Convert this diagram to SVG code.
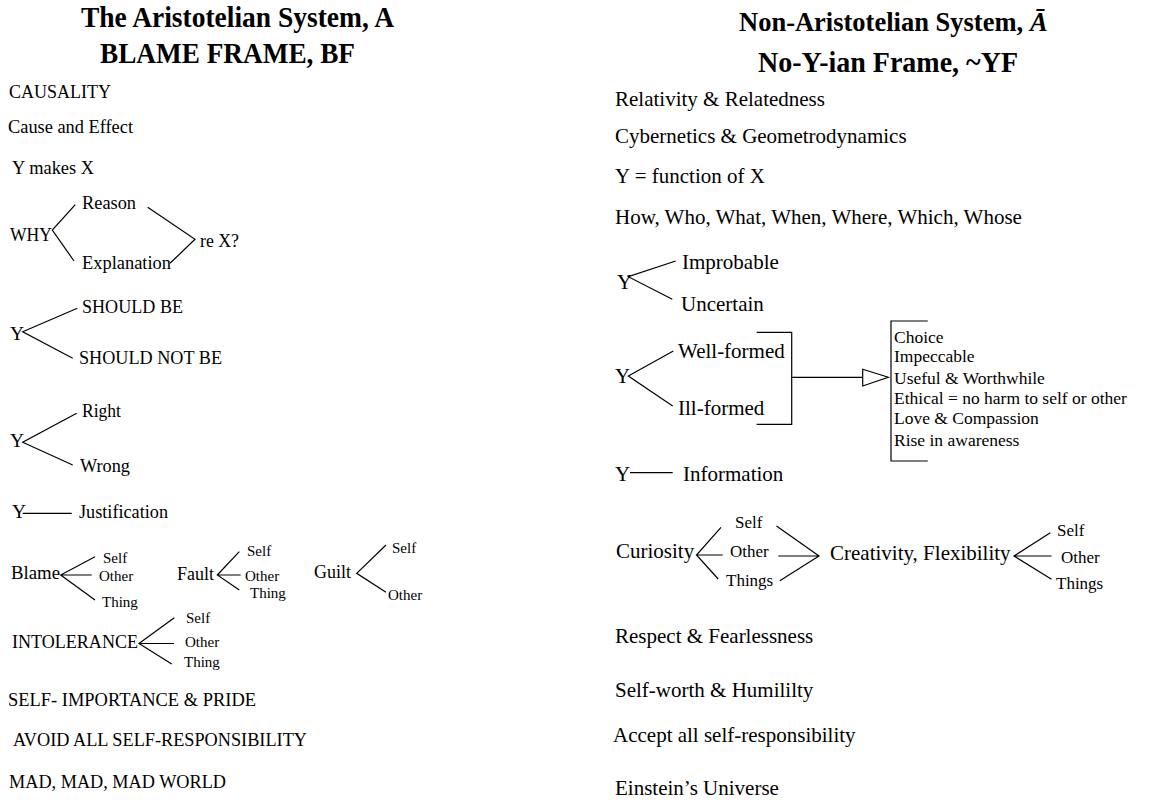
<svg xmlns="http://www.w3.org/2000/svg" width="1169" height="803" viewBox="0 0 1169 803">
<style>
text{font-family:"Liberation Serif","Times New Roman",serif;fill:#000}
.t{font-size:30px;font-weight:bold}
.tr{font-size:26.5px;font-weight:bold}
.l{font-size:19.5px}
.s{font-size:15px}
.r{font-size:21px}
.rs{font-size:17px}
.b{font-size:17.5px}
.ln{stroke:#000;stroke-width:1.2;fill:none}
</style>
<rect width="1169" height="803" fill="#fff"/>
<g id="titles">
<text class="t" x="81" y="27" textLength="313" lengthAdjust="spacingAndGlyphs">The Aristotelian System, A</text>
<text class="t" x="100" y="63" textLength="255" lengthAdjust="spacingAndGlyphs">BLAME FRAME, BF</text>
<text class="tr" x="739" y="31">Non-Aristotelian System,</text>
<text class="tr" x="1030" y="31" font-style="italic">Ā</text>
<text class="t" x="758" y="72" textLength="260" lengthAdjust="spacingAndGlyphs">No-Y-ian Frame, ~YF</text>
</g>
<g id="left">
<g id="causality"><text class="l" x="9" y="98" textLength="102" lengthAdjust="spacingAndGlyphs">CAUSALITY</text></g>
<g id="cause"><text class="l" x="8" y="133" textLength="125" lengthAdjust="spacingAndGlyphs">Cause and Effect</text></g>
<g id="ymakesx"><text class="l" x="12" y="174" textLength="82" lengthAdjust="spacingAndGlyphs">Y makes X</text></g>
<g id="why">
<text class="l" x="10" y="241" textLength="42" lengthAdjust="spacingAndGlyphs">WHY</text>
<text class="l" x="82" y="209" textLength="54" lengthAdjust="spacingAndGlyphs">Reason</text>
<text class="l" x="82" y="269" textLength="89" lengthAdjust="spacingAndGlyphs">Explanation</text>
<text class="l" x="200" y="247" textLength="39" lengthAdjust="spacingAndGlyphs">re X?</text>
</g>
<g id="should">
<text class="l" x="10" y="340">Y</text>
<text class="l" x="82" y="313" textLength="101" lengthAdjust="spacingAndGlyphs">SHOULD BE</text>
<text class="l" x="79" y="364" textLength="143" lengthAdjust="spacingAndGlyphs">SHOULD NOT BE</text>
</g>
<g id="rightwrong">
<text class="l" x="10" y="447">Y</text>
<text class="l" x="82" y="417" textLength="39" lengthAdjust="spacingAndGlyphs">Right</text>
<text class="l" x="80" y="472" textLength="50" lengthAdjust="spacingAndGlyphs">Wrong</text>
</g>
<g id="justification">
<text class="l" x="12" y="518">Y</text>
<text class="l" x="79" y="518" textLength="89" lengthAdjust="spacingAndGlyphs">Justification</text>
</g>
<g id="blame">
<text class="l" x="11" y="579" textLength="49" lengthAdjust="spacingAndGlyphs">Blame</text>
<text class="s" x="103" y="563">Self</text>
<text class="s" x="99" y="581">Other</text>
<text class="s" x="102" y="607">Thing</text>
</g>
<g id="fault">
<text class="l" x="177" y="580" textLength="37" lengthAdjust="spacingAndGlyphs">Fault</text>
<text class="s" x="247" y="556">Self</text>
<text class="s" x="245" y="581">Other</text>
<text class="s" x="250" y="598">Thing</text>
</g>
<g id="guilt">
<text class="l" x="314" y="578" textLength="37" lengthAdjust="spacingAndGlyphs">Guilt</text>
<text class="s" x="392" y="553">Self</text>
<text class="s" x="388" y="600">Other</text>
</g>
<g id="intolerance">
<text class="l" x="12" y="648" textLength="126" lengthAdjust="spacingAndGlyphs">INTOLERANCE</text>
<text class="s" x="186" y="623">Self</text>
<text class="s" x="185" y="647">Other</text>
<text class="s" x="184" y="667">Thing</text>
</g>
<g id="selfimportance"><text class="l" x="8" y="706" textLength="248" lengthAdjust="spacingAndGlyphs">SELF- IMPORTANCE &amp; PRIDE</text></g>
<g id="avoid"><text class="l" x="13" y="746" textLength="294" lengthAdjust="spacingAndGlyphs">AVOID ALL SELF-RESPONSIBILITY</text></g>
<g id="mad"><text class="l" x="9" y="788" textLength="217" lengthAdjust="spacingAndGlyphs">MAD, MAD, MAD WORLD</text></g>
</g>
<g id="right">
<g id="relativity"><text class="r" x="615" y="106">Relativity &amp; Relatedness</text></g>
<g id="cybernetics"><text class="r" x="615" y="143">Cybernetics &amp; Geometrodynamics</text></g>
<g id="function"><text class="r" x="615" y="183">Y = function of X</text></g>
<g id="how"><text class="r" x="615" y="224">How, Who, What, When, Where, Which, Whose</text></g>
<g id="improbable">
<text class="r" x="617" y="289">Y</text>
<text class="r" x="682" y="269">Improbable</text>
<text class="r" x="681" y="311">Uncertain</text>
</g>
<g id="wellformed">
<text class="r" x="615" y="383">Y</text>
<text class="r" x="678" y="358">Well-formed</text>
<text class="r" x="678" y="415">Ill-formed</text>
</g>
<g id="qualities">
<text class="b" x="894" y="343">Choice</text>
<text class="b" x="894" y="362">Impeccable</text>
<text class="b" x="894" y="384">Useful &amp; Worthwhile</text>
<text class="b" x="894" y="404">Ethical = no harm to self or other</text>
<text class="b" x="894" y="424">Love &amp; Compassion</text>
<text class="b" x="894" y="446">Rise in awareness</text>
</g>
<g id="information">
<text class="r" x="615" y="481">Y</text>
<text class="r" x="683" y="481">Information</text>
</g>
<g id="curiosity">
<text class="r" x="616" y="558">Curiosity</text>
<text class="rs" x="735" y="528">Self</text>
<text class="rs" x="730" y="557">Other</text>
<text class="rs" x="726" y="586">Things</text>
</g>
<g id="creativity">
<text class="r" x="830" y="560">Creativity, Flexibility</text>
<text class="rs" x="1057" y="536">Self</text>
<text class="rs" x="1061" y="563">Other</text>
<text class="rs" x="1056" y="589">Things</text>
</g>
<g id="respect"><text class="r" x="615" y="643">Respect &amp; Fearlessness</text></g>
<g id="selfworth"><text class="r" x="615" y="697">Self-worth &amp; Humililty</text></g>
<g id="accept"><text class="r" x="613" y="742">Accept all self-responsibility</text></g>
<g id="einstein"><text class="r" x="615" y="795">Einstein’s Universe</text></g>
</g>
<g id="connectors" class="ln">
<path d="M75.3 204.7 L52.3 230 L74 261"/>
<path d="M147.7 207.3 L195 239.3 L170 263.3"/>
<path d="M77.3 308.3 L22.7 331.7 L72.7 358.3"/>
<path d="M76.7 413.3 L22.7 442.3 L72.7 465"/>
<path d="M22.7 513.3 H71.7"/>
<path d="M95 556.7 L60.7 575 L95 600 M60.7 575 H91.7"/>
<path d="M239.3 551.7 L217.3 575 L239.3 590 M217.3 575 H240.7"/>
<path d="M386 545 L356.7 573.3 L386 592.3"/>
<path d="M174.3 617.7 L139 643.5 L171.7 664 M139 643.5 H174"/>
<path d="M675.7 261 L628.3 276.7 L672.3 299.3"/>
<path d="M673.3 351 L628.3 376 L672.7 406"/>
<path d="M756.7 332.3 H791.7 V424.3 H756.7"/>
<path d="M791.7 377.3 H862.7"/>
<polygon points="862.7,369.3 888.3,377.3 862.7,386" fill="#fff"/>
<path d="M927.7 321 H891 V461 H927.7"/>
<path d="M630 472.7 H672.7"/>
<path d="M721 527.3 L696.5 555 L718.2 579 M696.5 555 H722.8"/>
<path d="M776.5 526 L819 556 L779.8 580.7 M778.3 556 H819"/>
<path d="M1050.3 532.7 L1014 556 L1051.5 579.3 M1014 556 H1051.5"/>
</g>
</svg>
